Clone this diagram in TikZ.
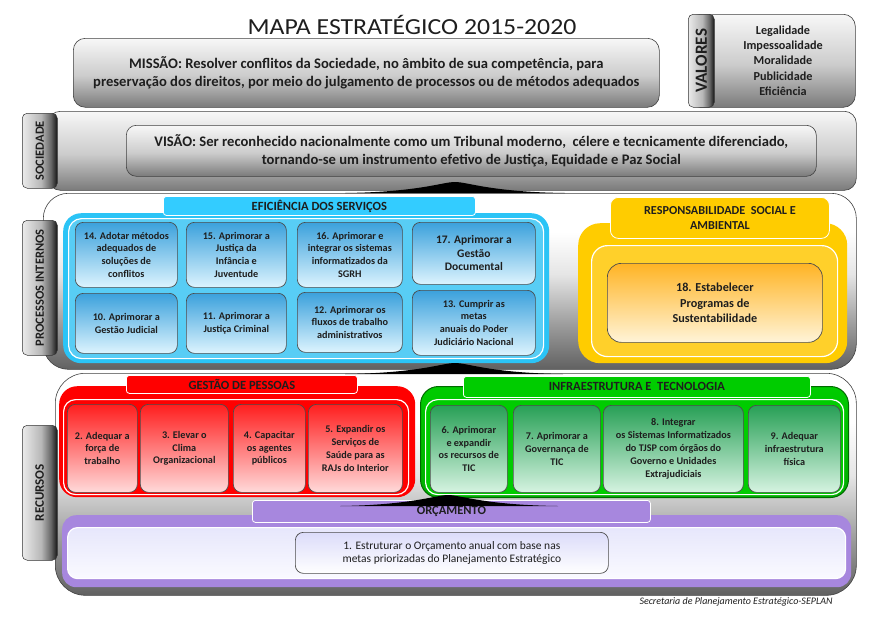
\documentclass[tikz,border=0pt]{standalone}
\usepackage{fontspec}
\setmainfont{Carlito}

% palette
\definecolor{inkc}{HTML}{1E1E1E}
\definecolor{cyanH}{HTML}{33CCFF}
\definecolor{cyanC}{HTML}{2BC4F6}
\definecolor{cyanI}{HTML}{58CDF5}
\definecolor{blueA}{HTML}{3BA1DC}
\definecolor{blueB}{HTML}{DDF4FE}
\definecolor{yelH}{HTML}{FFCC00}
\definecolor{yelI}{HTML}{FFD02A}
\definecolor{oraA}{HTML}{FFB424}
\definecolor{oraB}{HTML}{FFF4D8}
\definecolor{redH}{HTML}{FF0000}
\definecolor{redA}{HTML}{FF1E1E}
\definecolor{redB}{HTML}{FFDADA}
\definecolor{grnH}{HTML}{00CC00}
\definecolor{grnD}{HTML}{006A00}
\definecolor{grnA}{HTML}{28A056}
\definecolor{grnB}{HTML}{D6F3E1}
\definecolor{purH}{HTML}{A787DE}
\definecolor{lavA}{HTML}{DCDCFA}
\definecolor{lavB}{HTML}{FAFAFF}

% grey shadings (the path spans 25bp..75bp)
\pgfdeclareverticalshading{layershade}{100bp}{color(0bp)=(black!62); color(25bp)=(black!62); color(38bp)=(black!38); color(52bp)=(black!10); color(64bp)=(white); color(100bp)=(white)}
\pgfdeclareverticalshading{boxshade}{100bp}{color(0bp)=(black!52); color(25bp)=(black!52); color(48bp)=(black!20); color(75bp)=(black!3); color(100bp)=(black!3)}
\pgfdeclarehorizontalshading{tabshade}{100bp}{color(0bp)=(black!8); color(25bp)=(black!8); color(52bp)=(black!28); color(66bp)=(black!60); color(75bp)=(black!92); color(100bp)=(black!92)}

\begin{document}
\begin{tikzpicture}[x=1pt,y=-1pt,
  layer/.style={draw=black!75, line width=0.6pt, shading=layershade, anchor=north west},
  greybox/.style={draw=black!75, line width=0.6pt, shading=boxshade, anchor=north west, align=center, text=inkc},
  tabbox/.style={draw=black!80, line width=0.5pt, rounded corners=5pt, shading=tabshade, anchor=north west},
  tabtext/.style={rotate=90, text=inkc, font=\bfseries\fontsize{12.5}{13}\selectfont},
  hdr/.style={draw=white, line width=0.8pt, rounded corners=3pt, anchor=north west, align=center, text=inkc, font=\bfseries\fontsize{12.5}{14}\selectfont},
  group/.style={anchor=north west},
  inner/.style={draw=white, line width=1.2pt, anchor=north west},
  goal/.style={draw=black!70, line width=0.7pt, rounded corners=8pt, anchor=north west, align=center, text=inkc, font=\bfseries\fontsize{10.2}{12.8}\selectfont, shading angle=45},
  bluegoal/.style={goal, top color=blueA, bottom color=blueB},
  redgoal/.style={goal, top color=redA, bottom color=redB},
  greengoal/.style={goal, top color=grnA, bottom color=grnB},
  wedge/.style={fill=black}
]
\useasboundingbox (0,0) rectangle (877,616);

% ---------- title ----------
\node[text=inkc, font=\fontsize{23}{23}\selectfont, xscale=1.12] (title) at (412,25) {MAPA ESTRATÉGICO 2015-2020};

% ---------- mission and values ----------
\node[greybox, rounded corners=12pt, minimum width=586, minimum height=69, font=\bfseries\fontsize{14.6}{18.5}\selectfont] (missao) at (73,38)
  {MISSÃO: Resolver conflitos da Sociedade, no âmbito de sua competência, para\\preservação dos direitos, por meio do julgamento de processos ou de métodos adequados};

\node[greybox, rounded corners=12pt, minimum width=167, minimum height=93] (valores) at (688,14) {};
\node[tabbox, minimum width=26, minimum height=93] (valtab) at (688,14) {};
\node[tabtext, font=\bfseries\fontsize{17}{17}\selectfont] (valtxt) at (valtab.center) {VALORES};
\node[align=center, text=inkc, font=\bfseries\fontsize{12.2}{15.3}\selectfont] (vallist) at (783,60.5)
  {Legalidade\\Impessoalidade\\Moralidade\\Publicidade\\Eficiência};

% ---------- society layer ----------
\node[greybox, rounded corners=12pt, minimum width=808, minimum height=79] (soc) at (48,111) {};
\node[tabbox, minimum width=35, minimum height=75] (soctab) at (22,113) {};
\node[tabtext] (soctxt) at (soctab.center) {SOCIEDADE};
\node[greybox, rounded corners=10pt, minimum width=690, minimum height=51, font=\bfseries\fontsize{14.6}{18.5}\selectfont] (visao) at (126,125)
  {VISÃO: Ser reconhecido nacionalmente como um Tribunal moderno,\ \ célere e tecnicamente diferenciado,\\tornando-se um instrumento efetivo de Justiça, Equidade e Paz Social};

% ---------- internal processes layer ----------
\node[layer, rounded corners=25pt, minimum width=813, minimum height=176] (proc) at (43,193) {};
\node[tabbox, minimum width=35, minimum height=135] (proctab) at (22,220) {};
\node[tabtext] (proctxt) at (proctab.center) {PROCESSOS INTERNOS};

\fill[wedge] (345,193) .. controls (420,192) and (442,182) .. (455,182)
  .. controls (468,182) and (490,192) .. (565,193) -- cycle;

% service efficiency group
\node[group, fill=cyanC, rounded corners=18pt, minimum width=486, minimum height=150] (efic) at (63,213) {};
\node[inner, fill=cyanI, rounded corners=13pt, minimum width=475, minimum height=140] (eficin) at (68,218) {};
\node[hdr, fill=cyanH, minimum width=312, minimum height=18] (efichdr) at (163,196) {EFICIÊNCIA DOS SERVIÇOS};

\node[bluegoal, minimum width=102, minimum height=65] (g14) at (75,222) {14. Adotar métodos\\adequados de\\soluções de\\conflitos};
\node[bluegoal, minimum width=100, minimum height=65] (g15) at (186,222) {15. Aprimorar a\\Justiça da\\Infância e\\Juventude};
\node[bluegoal, minimum width=105, minimum height=65] (g16) at (297,222) {16. Aprimorar e\\integrar os sistemas\\informatizados da\\SGRH};
\node[bluegoal, minimum width=123, minimum height=62, font=\bfseries\fontsize{11.5}{13.5}\selectfont] (g17) at (412,222) {17. Aprimorar a\\Gestão\\Documental};
\node[bluegoal, minimum width=102, minimum height=60] (g10) at (75,293) {10. Aprimorar a\\Gestão Judicial};
\node[bluegoal, minimum width=100, minimum height=60] (g11) at (186,293) {11. Aprimorar a\\Justiça Criminal};
\node[bluegoal, minimum width=105, minimum height=60] (g12) at (297,292) {12. Aprimorar os\\fluxos de trabalho\\administrativos};
\node[bluegoal, minimum width=123, minimum height=65] (g13) at (412,290) {13. Cumprir as\\metas\\anuais do Poder\\Judiciário Nacional};

% social and environmental responsibility group
\node[group, fill=yelH, rounded corners=22pt, minimum width=269, minimum height=140] (resp) at (578,223) {};
\node[inner, fill=yelI, rounded corners=16pt, minimum width=246, minimum height=111] (respin) at (591,245) {};
\node[hdr, fill=yelH, rounded corners=8pt, minimum width=219, minimum height=41, font=\bfseries\fontsize{12.2}{14.5}\selectfont] (resphdr) at (610,197)
  {RESPONSABILIDADE\ \ SOCIAL E\\AMBIENTAL};
\node[goal, top color=oraA, bottom color=oraB, rounded corners=14pt, minimum width=215, minimum height=79, font=\bfseries\fontsize{12.2}{15.5}\selectfont] (g18) at (607,263)
  {18. Estabelecer\\Programas de\\Sustentabilidade};

% ---------- resources layer ----------
\node[layer, rounded corners=30pt, minimum width=801, minimum height=222] (rec) at (55,373) {};
\node[tabbox, minimum width=35, minimum height=135] (rectab) at (22,425) {};
\node[tabtext, font=\bfseries\fontsize{13}{13}\selectfont] (rectxt) at (rectab.center) {RECURSOS};

\fill[wedge] (345,374) .. controls (420,373) and (442,363) .. (455,363)
  .. controls (468,363) and (490,373) .. (563,374) -- cycle;

% people management group
\node[group, fill=redH, rounded corners=18pt, minimum width=356, minimum height=111] (pess) at (59,386) {};
\node[inner, fill=redH, rounded corners=12pt, minimum width=345, minimum height=95] (pessin) at (63,399) {};
\node[hdr, fill=redH, minimum width=231, minimum height=18] (pesshdr) at (126,375) {GESTÃO DE PESSOAS};

\node[redgoal, minimum width=70, minimum height=88] (g2) at (67,404) {2. Adequar a\\força de\\trabalho};
\node[redgoal, minimum width=88, minimum height=88] (g3) at (140,404) {3. Elevar o\\Clima\\Organizacional};
\node[redgoal, minimum width=72, minimum height=88] (g4) at (233,404) {4. Capacitar\\os agentes\\públicos};
\node[redgoal, minimum width=94, minimum height=88] (g5) at (308,404) {5. Expandir os\\Serviços de\\Saúde para as\\RAJs do Interior};

% infrastructure and technology group
\node[group, draw=grnD, line width=1pt, top color=grnH, bottom color=grnH!85!black, rounded corners=18pt, minimum width=428, minimum height=111] (infra) at (420,386) {};
\node[inner, fill=grnH, rounded corners=12pt, minimum width=418, minimum height=95] (infrain) at (425,399) {};
\node[hdr, fill=grnH, minimum width=347, minimum height=21] (infrahdr) at (463,376) {INFRAESTRUTURA E\ \ TECNOLOGIA};

\node[greengoal, minimum width=77, minimum height=87] (g6) at (430,405) {6. Aprimorar\\e expandir\\os recursos de\\TIC};
\node[greengoal, minimum width=87, minimum height=87] (g7) at (513,405) {7. Aprimorar a\\Governança de\\TIC};
\node[greengoal, minimum width=140, minimum height=87] (g8) at (603,405) {8. Integrar\\os Sistemas Informatizados\\do TJSP com órgãos do\\Governo e Unidades\\Extrajudiciais};
\node[greengoal, minimum width=92, minimum height=87] (g9) at (748,405) {9. Adequar\\infraestrutura\\física};

% budget group
\node[group, fill=purH, rounded corners=14pt, minimum width=789, minimum height=72] (orc) at (62,515) {};
\node[inner, top color=lavA!70, bottom color=lavB, rounded corners=10pt, minimum width=778, minimum height=51] (orcin) at (67,527) {};
\node[hdr, fill=purH, minimum width=398, minimum height=22] (orchdr) at (252,500) {\raisebox{-2pt}{ORÇAMENTO}};

\fill[wedge] (340,506) .. controls (412,505) and (436,495) .. (448,495)
  .. controls (460,495) and (484,505) .. (558,506) -- cycle;

\node[goal, top color=lavA, bottom color=white, rounded corners=8pt, minimum width=313, minimum height=41, font=\fontsize{11.5}{13}\selectfont] (g1) at (295,532)
  {1. Estruturar o Orçamento anual com base nas\\metas priorizadas do Planejamento Estratégico};

% ---------- footer ----------
\node[text=inkc, font=\itshape\fontsize{10}{10}\selectfont] (footer) at (736,602) {Secretaria de Planejamento Estratégico-SEPLAN};

\end{tikzpicture}
\end{document}
